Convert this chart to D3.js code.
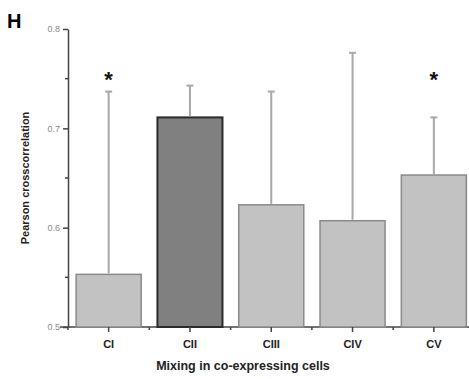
<!DOCTYPE html>
<html><head><meta charset="utf-8">
<script src="https://cdn.jsdelivr.net/npm/d3@7"></script>
<style>body{margin:0;background:#fff}svg{display:block}</style>
</head><body>
<script>
const categories = ["CI","CII","CIII","CIV","CV"];
const means = [0.553, 0.711, 0.623, 0.607, 0.653];
const upper = [0.737, 0.743, 0.737, 0.776, 0.711];
const significant = [true, false, false, false, true];
const highlight = [false, true, false, false, false];
const starLevel = 0.75;
const yTicks = [0.5, 0.6, 0.7, 0.8];
const yMinor = [0.55, 0.65, 0.75];

const W = 469, H = 379;
const svg = d3.select("body").append("svg").attr("width", W).attr("height", H)
  .style("font-family", "Liberation Sans, Arial, sans-serif");

const x = d3.scaleBand().domain(categories).range([68, 474.5]).paddingInner(0.2).paddingOuter(0.1);
const y = d3.scaleLinear().domain([0.5, 0.8]).range([327, 29]);

// x axis line
svg.append("line").attr("x1", 60).attr("x2", W).attr("y1", y(0.5)).attr("y2", y(0.5))
  .attr("stroke", "#444").attr("stroke-width", 1.5);

// bars
svg.selectAll("rect.bar").data(categories).join("rect")
  .attr("x", d => x(d)).attr("width", x.bandwidth())
  .attr("y", (d,i) => y(means[i])).attr("height", (d,i) => y(0.5) - y(means[i]))
  .attr("fill", (d,i) => highlight[i] ? "#808080" : "#c2c2c2")
  .attr("stroke", (d,i) => highlight[i] ? "#2a2a2a" : "#8a8a8a")
  .attr("stroke-width", (d,i) => highlight[i] ? 2 : 1.5);

// error bars
const eb = svg.selectAll("g.eb").data(categories).join("g");
eb.append("line")
  .attr("x1", d => x(d) + x.bandwidth()/2).attr("x2", d => x(d) + x.bandwidth()/2)
  .attr("y1", (d,i) => y(means[i]) - 1).attr("y2", (d,i) => y(upper[i]))
  .attr("stroke", "#a8a8a8").attr("stroke-width", 2);
eb.append("line")
  .attr("x1", d => x(d) + x.bandwidth()/2 - 3.5).attr("x2", d => x(d) + x.bandwidth()/2 + 3.5)
  .attr("y1", (d,i) => y(upper[i])).attr("y2", (d,i) => y(upper[i]))
  .attr("stroke", "#a8a8a8").attr("stroke-width", 2);

// stars
svg.selectAll("text.star").data(categories.filter((d,i) => significant[i])).join("text")
  .attr("x", d => x(d) + x.bandwidth()/2)
  .attr("y", y(starLevel) + 8)
  .attr("text-anchor", "middle")
  .attr("font-size", 22).attr("font-weight", "bold").attr("fill", "#111")
  .text("*");

// x ticks
const xAxis = d3.axisBottom(x).tickSize(5).tickSizeOuter(0);
const gx = svg.append("g").attr("transform", `translate(0,${y(0.5)})`).call(xAxis);
gx.select(".domain").remove();
gx.selectAll(".tick line").attr("stroke", "#444").attr("stroke-width", 1.5);
gx.selectAll(".tick text").attr("font-size", 11).attr("font-weight", "bold").attr("fill", "#222").attr("dy", "1.2em");
// minor x ticks between bands
const step = x.step();
const minorX = categories.slice(1).map(d => x(d) - step * x.paddingInner() / 2);
svg.selectAll("line.mx").data(minorX).join("line")
  .attr("x1", d => d).attr("x2", d => d).attr("y1", y(0.5)).attr("y2", y(0.5) + 3)
  .attr("stroke", "#444").attr("stroke-width", 1.5);
svg.append("line").attr("x1", 68).attr("x2", 68).attr("y1", y(0.5)).attr("y2", y(0.5)+3)
  .attr("stroke", "#444").attr("stroke-width", 1.5);

// y axis
const yAxis = d3.axisLeft(y).tickValues(yTicks).tickSize(5).tickSizeOuter(0).tickFormat(d3.format(".1f"));
const gy = svg.append("g").attr("transform", "translate(68,0)").call(yAxis);
gy.select(".domain").attr("stroke", "#444").attr("stroke-width", 1.5);
gy.selectAll(".tick line").attr("stroke", "#444").attr("stroke-width", 1.5);
gy.selectAll(".tick text").attr("font-size", 9).attr("fill", "#8a8a8a").attr("x", -8);
svg.selectAll("line.my").data(yMinor).join("line")
  .attr("x1", 65).attr("x2", 68).attr("y1", d => y(d)).attr("y2", d => y(d))
  .attr("stroke", "#444").attr("stroke-width", 1.5);

// axis titles
svg.append("text").attr("x", 243).attr("y", 370).attr("text-anchor", "middle")
  .attr("font-size", 12.5).attr("font-weight", "bold").attr("fill", "#222")
  .text("Mixing in co-expressing cells");
svg.append("text").attr("transform", "translate(29,178) rotate(-90)").attr("text-anchor", "middle")
  .attr("font-size", 11).attr("font-weight", "bold").attr("fill", "#222")
  .text("Pearson crosscorrelation");

// panel letter
svg.append("text").attr("x", 7).attr("y", 28).attr("font-size", 20).attr("font-weight", "bold").attr("fill", "#000").text("H");
</script>
</body></html>
